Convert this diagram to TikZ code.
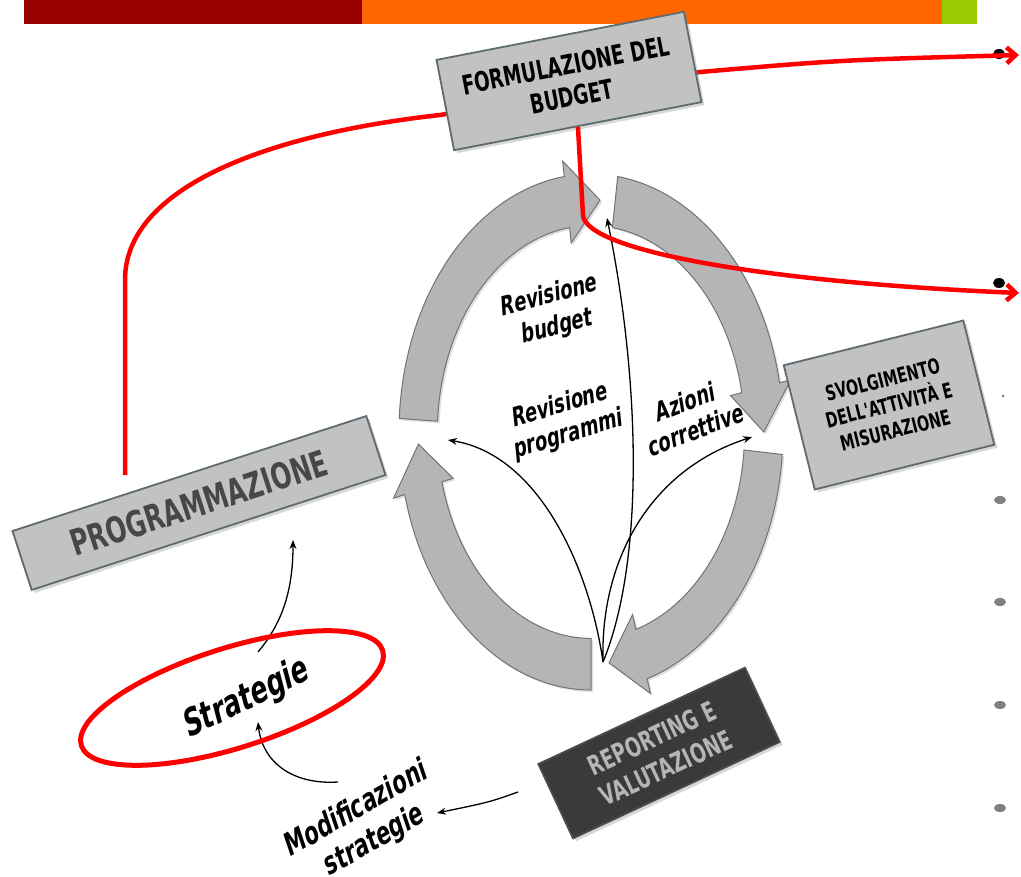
\documentclass[tikz,border=0pt]{standalone}
\usepackage{fontspec}
\usepackage{tikz}
\usetikzlibrary{shapes,shadows,arrows.meta}
\newfontfamily\boxfont{DejaVu Sans Bold}[FakeStretch=0.68]
\newfontfamily\notefam{DejaVu Sans Bold}[FakeStretch=0.7,FakeSlant=0.2]
\newcommand{\capsfont}[2]{\boxfont\fontsize{#1}{#2}\selectfont}
\newcommand{\notefont}[2]{\notefam\fontsize{#1}{#2}\selectfont}
\definecolor{barRed}{HTML}{990000}
\definecolor{barOrange}{HTML}{FF6600}
\definecolor{barGreen}{HTML}{99CC00}
\definecolor{boxGray}{HTML}{C2C2C2}
\definecolor{boxEdge}{HTML}{5E6B70}
\definecolor{ringGray}{HTML}{B5B5B5}
\definecolor{ringEdge}{HTML}{737373}
\definecolor{darkBox}{HTML}{3A3A3A}
\definecolor{lightText}{HTML}{B5B5B5}
\definecolor{markRed}{HTML}{FF0000}
\tikzstyle{block} = [draw=boxEdge,line width=1.8pt,rectangle,fill=boxGray,align=center,inner sep=0pt,drop shadow={shadow xshift=3pt,shadow yshift=-3pt,opacity=0.3}]
\tikzstyle{darkBlock} = [block,draw=black!70,fill=darkBox,text=lightText]
\tikzstyle{note} = [align=center,inner sep=0pt]
\tikzstyle{ring} = [fill=ringGray,draw=ringEdge,line width=1pt,drop shadow={shadow xshift=2pt,shadow yshift=-2pt,opacity=0.25}]
\tikzstyle{arrowLine} = [draw,-{Stealth[length=9pt,width=7pt]},line width=1.3pt]
\tikzstyle{redLine} = [draw=markRed,line width=4.5pt,-{Straight Barb[length=9pt,width=16pt]}]

\begin{document}
\begin{tikzpicture}[x=1pt,y=-1pt]
	\useasboundingbox (0,0) rectangle (1021,877);
	\fill[white] (0,0) rectangle (1021,877);
	%top bar
	\fill[barRed] (24,0) rectangle (362,24);
	\fill[barOrange] (362,0) rectangle (942,24);
	\fill[barGreen] (942,0) rectangle (977,24);
	%bullets
	\fill (999,54) ellipse [x radius=6,y radius=5];
	\fill (999,283) ellipse [x radius=6,y radius=5];
	\foreach \y in {500,602,705,808}
		\fill[gray] (1000,\y) ellipse [x radius=6,y radius=4];
	\fill[gray] (1003,396) circle (1.5);
	%cycle
	\begin{scope}[shift={(591,432)},x={(192pt,0pt)},y={(0pt,258pt)}]
		\foreach \a/\b in {177/87,82/0,-5/-84,-90/-177}{
			\pgfmathsetmacro{\c}{\b+11}
			\path[ring] plot[domain=\a:\c,samples=40] (\x:1) -- (\c:1.06) -- (\b:0.9)
				-- (\c:0.74) -- plot[domain=\c:\a,samples=40] (\x:0.8) -- cycle;
		}
	\end{scope}
	\coordinate (cycleBottom) at (603,662);
	\coordinate (progEnd) at (448,440);
	\coordinate (budgetEnd) at (607,218);
	\coordinate (svolgEnd) at (752,437);
	\coordinate (progTop) at (125,475);
	\coordinate (bulletOne) at (1019,55);
	\coordinate (bulletTwo) at (1019,293);
	\coordinate (strategieTop) at (258,652);
	\coordinate (strategieBottom) at (258,722);
	\coordinate (progBottom) at (293,540);
	\coordinate (modTop) at (338,782);
	\coordinate (modRight) at (437,813);
	\coordinate (reportLeft) at (518,792);
	%red line behind the budget box
	\path[redLine] (progTop) -- (125,280) .. controls (125,190) and (260,135) .. (440,115)
		-- (700,72) .. controls (840,60) .. (bulletOne);
	%boxes
	\node[block,rotate=11,minimum width=252pt,minimum height=92pt,font=\capsfont{27}{32}](formulazione) at (569,81){FORMULAZIONE DEL\\BUDGET};
	\node[block,rotate=14,minimum width=185pt,minimum height=128pt,font=\capsfont{21}{26}](svolgimento) at (889,405){SVOLGIMENTO\\DELL'ATTIVIT\`A E\\MISURAZIONE};
	\node[block,rotate=18,minimum width=372pt,minimum height=62pt,text=black!72,font=\capsfont{36}{40}](programmazione) at (199,503){PROGRAMMAZIONE};
	\node[darkBlock,rotate=25,minimum width=228pt,minimum height=82pt,font=\capsfont{27}{33}](reporting) at (659,753){REPORTING E\\VALUTAZIONE};
	%labels
	\node[note,rotate=15,font=\notefont{26}{32}](revBudget) at (552,312){Revisione\\budget};
	\node[note,rotate=17,font=\notefont{26}{30}](revProgrammi) at (563,421){Revisione\\programmi};
	\node[note,rotate=21,font=\notefont{26}{30}](azioni) at (689,416){Azioni\\correttive};
	\node[note,rotate=26,font=\notefont{37}{40}](strategie) at (245,700){Strategie};
	\node[note,rotate=30,font=\notefont{31}{36}](modificazioni) at (364,826){Modificazioni\\strategie};
	%arrows
	\path[arrowLine](cycleBottom) .. controls (590,570) and (540,455) .. (progEnd);
	\path[arrowLine](cycleBottom) .. controls (645,560) and (640,380) .. (budgetEnd);
	\path[arrowLine](cycleBottom) .. controls (600,560) and (650,470) .. (svolgEnd);
	\path[arrowLine](strategieTop) .. controls (285,620) and (293,585) .. (progBottom);
	\path[arrowLine](modTop) .. controls (290,785) and (262,760) .. (strategieBottom);
	\path[arrowLine](reportLeft) .. controls (490,802) .. (modRight);
	\path[redLine](formulazione.south) -- (583,215) .. controls (585,250) and (760,282) .. (bulletTwo);
	\draw[markRed,line width=5pt,shift={(232,698)},rotate=17.5] (0,0) ellipse [x radius=158,y radius=50];
\end{tikzpicture}
\end{document}
